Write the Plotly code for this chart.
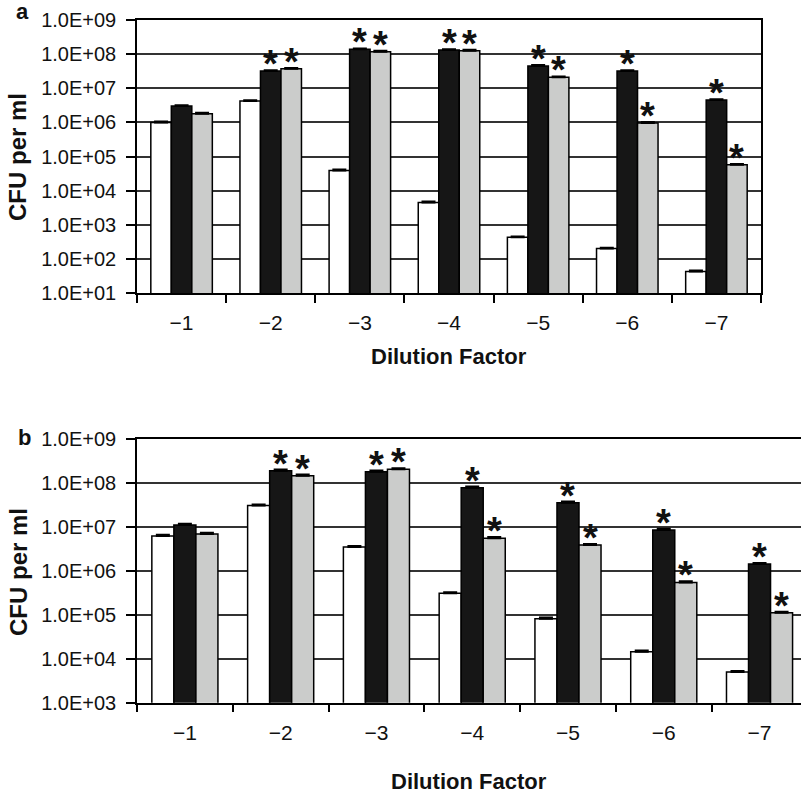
import math
import plotly.graph_objects as go

# ---- data -------------------------------------------------------------
dilution = ["\u22121", "\u22122", "\u22123", "\u22124", "\u22125", "\u22126", "\u22127"]

# panel a (CFU per ml)
a_white = [1.0e6, 4.2e6, 3.9e4, 4.5e3, 4.3e2, 2.0e2, 43]
a_black = [3.0e6, 3.2e7, 1.38e8, 1.32e8, 4.5e7, 3.2e7, 4.5e6]
a_grey = [1.8e6, 3.7e7, 1.18e8, 1.26e8, 2.1e7, 9.6e5, 5.7e4]
a_black_sig = [False, True, True, True, True, True, True]
a_grey_sig = [False, True, True, True, True, True, True]

# panel b (CFU per ml)
b_white = [6.3e6, 3.1e7, 3.5e6, 3.1e5, 8.2e4, 1.45e4, 5.0e3]
b_black = [1.12e7, 1.93e8, 1.83e8, 7.9e7, 3.6e7, 8.6e6, 1.44e6]
b_grey = [7.0e6, 1.48e8, 2.07e8, 5.6e6, 3.9e6, 5.5e5, 1.12e5]
b_black_sig = [False, True, True, True, True, True, True]
b_grey_sig = [False, True, True, True, True, True, True]

a_tickvals = [1e1, 1e2, 1e3, 1e4, 1e5, 1e6, 1e7, 1e8, 1e9]
a_ticktext = ["1.0E+01", "1.0E+02", "1.0E+03", "1.0E+04", "1.0E+05",
              "1.0E+06", "1.0E+07", "1.0E+08", "1.0E+09"]
b_tickvals = [1e3, 1e4, 1e5, 1e6, 1e7, 1e8, 1e9]
b_ticktext = ["1.0E+03", "1.0E+04", "1.0E+05", "1.0E+06", "1.0E+07",
              "1.0E+08", "1.0E+09"]

# ---- styling ----------------------------------------------------------
FONT = "Liberation Sans, Arial, Helvetica, sans-serif"
W, H = 801, 795
BARGAP = 0.31
FILLS = ["#ffffff", "#161616", "#cbcccb"]
BAR_W = (1 - BARGAP) / 3


def px_x(p):
    return p / W


def px_y(p):
    return 1 - p / H


fig = go.Figure()


def add_panel(xa, ya, series):
    for vals, fill in zip(series, FILLS):
        fig.add_trace(go.Bar(
            x=dilution, y=vals, xaxis=xa, yaxis=ya,
            marker=dict(color=fill, line=dict(color="#000000", width=1.5)),
            error_y=dict(type="percent", value=6, symmetric=False, valueminus=0,
                         color="#000000", thickness=2, width=7),
            showlegend=False, hoverinfo="skip",
        ))


add_panel("x", "y", [a_white, a_black, a_grey])
add_panel("x2", "y2", [b_white, b_black, b_grey])

# significance asterisks above treated bars
ann = []


def add_stars(xref, yref, vals, sig, offset):
    for i, (v, s) in enumerate(zip(vals, sig)):
        if s:
            ann.append(dict(
                x=i + offset, y=math.log10(v), xref=xref, yref=yref,
                text="<b>*</b>", showarrow=False, xanchor="center",
                yanchor="bottom", yshift=-16,
                font=dict(family=FONT, size=38, color="#111111"),
            ))


add_stars("x", "y", a_black, a_black_sig, 0)
add_stars("x", "y", a_grey, a_grey_sig, BAR_W)
add_stars("x2", "y2", b_black, b_black_sig, 0)
add_stars("x2", "y2", b_grey, b_grey_sig, BAR_W)


def label(x, y, text, size, angle=0):
    return dict(x=px_x(x), y=px_y(y), xref="paper", yref="paper",
                text=text, showarrow=False, textangle=angle,
                xanchor="center", yanchor="middle",
                font=dict(family=FONT, size=size, color="#111111"))


# titles and panel letters
ann += [
    label(449, 356, "<b>Dilution Factor</b>", 22),
    label(469, 781, "<b>Dilution Factor</b>", 22),
    label(18, 157, "<b>CFU per ml</b>", 24, -90),
    label(18, 572, "<b>CFU per ml</b>", 24, -90),
    label(22, 12, "<b>a</b>", 22),
    label(24, 437, "<b>b</b>", 22),
]

xaxis_common = dict(
    type="category", showgrid=False, showline=True, linecolor="#000000",
    linewidth=1.5, ticks="outside", tickson="boundaries", ticklen=8,
    tickwidth=1.5, tickcolor="#000000", ticklabelstandoff=10,
    tickfont=dict(family=FONT, size=21, color="#111111"), automargin=False,
)
yaxis_common = dict(
    type="log", showgrid=True, gridcolor="#333333", gridwidth=1.5,
    showline=True, linecolor="#000000", linewidth=1.5, ticks="outside",
    ticklen=9, tickwidth=1.5, tickcolor="#000000", ticklabelstandoff=6,
    tickfont=dict(family=FONT, size=20, color="#111111"), zeroline=False,
    automargin=False,
)

fig.update_layout(
    width=W, height=H, margin=dict(l=0, r=0, t=0, b=0, pad=0),
    paper_bgcolor="#ffffff", plot_bgcolor="#ffffff",
    barmode="group", bargap=BARGAP, bargroupgap=0,
    font=dict(family=FONT),
    xaxis=dict(domain=[px_x(137), px_x(761)], anchor="y", mirror=True,
               range=[-0.5, 6.5], **xaxis_common),
    yaxis=dict(domain=[px_y(293), px_y(20)], anchor="x", mirror=True,
               range=[1, 9], tickvals=a_tickvals, ticktext=a_ticktext,
               **yaxis_common),
    xaxis2=dict(domain=[px_x(137), 1.0], anchor="y2", mirror=True,
                range=[-0.5, 6.433], **xaxis_common),
    yaxis2=dict(domain=[px_y(702.7), px_y(439.3)], anchor="x2",
                range=[3, 9], tickvals=b_tickvals, ticktext=b_ticktext,
                **yaxis_common),
    annotations=ann,
)

fig.write_html("out.html")
